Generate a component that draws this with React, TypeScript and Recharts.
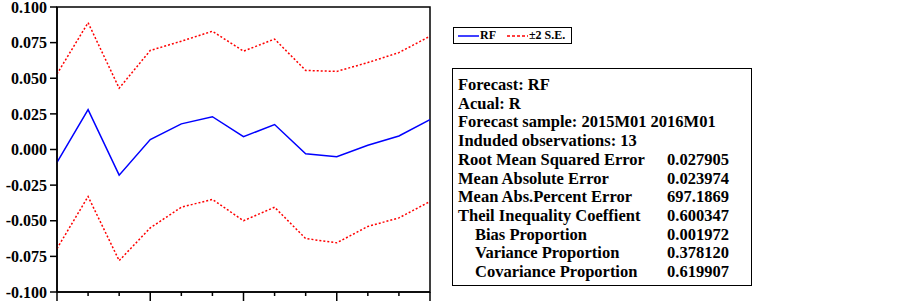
import React from "react";
import {
  LineChart,
  Line,
  XAxis,
  YAxis,
  Legend,
  ReferenceArea,
} from "recharts";

const months = [
  "2015M01", "2015M02", "2015M03", "2015M04", "2015M05", "2015M06", "2015M07",
  "2015M08", "2015M09", "2015M10", "2015M11", "2015M12", "2016M01",
];
const forecast = [
  -0.009, 0.028, -0.018, 0.007, 0.018, 0.023, 0.009, 0.0175, -0.003, -0.005,
  0.003, 0.0095, 0.021,
];
const upper = [
  0.053, 0.089, 0.043, 0.0695, 0.076, 0.083, 0.069, 0.0775, 0.0555, 0.0548,
  0.061, 0.068, 0.0795,
];
const lower = [
  -0.0695, -0.033, -0.078, -0.055, -0.0405, -0.035, -0.05, -0.0405, -0.0625,
  -0.0655, -0.054, -0.048, -0.0365,
];
const yTicks = [-0.1, -0.075, -0.05, -0.025, 0, 0.025, 0.05, 0.075, 0.1];

const stats: [string, string, boolean][] = [
  ["Forecast: RF", "", false],
  ["Acual: R", "", false],
  ["Forecast sample: 2015M01 2016M01", "", false],
  ["Induded observations: 13", "", false],
  ["Root Mean Squared Error", "0.027905", false],
  ["Mean Absolute Error", "0.023974", false],
  ["Mean Abs.Percent Error", "697.1869", false],
  ["Theil Inequality Coeffient", "0.600347", false],
  ["Bias Proportion", "0.001972", true],
  ["Variance Proportion", "0.378120", true],
  ["Covariance Proportion", "0.619907", true],
];

const data = months.map((m, i) => ({
  month: m,
  rf: forecast[i],
  up: upper[i],
  lo: lower[i],
}));

const serif = "'Liberation Serif', 'Times New Roman', serif";

// long tick every third month, short ones in between
const XTick = (props: any) => {
  const { x, y, index } = props;
  return (
    <line
      x1={x}
      x2={x}
      y1={y}
      y2={y + (index % 3 === 0 ? 9 : 4)}
      stroke="#000"
      strokeWidth={1.5}
    />
  );
};

const LegendBox = () => (
  <div
    style={{
      width: 117,
      height: 15,
      border: "1.5px solid #000",
      display: "flex",
      alignItems: "center",
      fontFamily: serif,
      fontWeight: "bold",
      fontSize: 12,
      color: "#000",
      boxSizing: "content-box",
      background: "#fff",
    }}
  >
    <svg width={21} height={4} style={{ marginLeft: 4 }}>
      <line x1={0} x2={21} y1={2} y2={2} stroke="#0000ff" strokeWidth={1.5} />
    </svg>
    <span style={{ marginLeft: 1 }}>RF</span>
    <svg width={21} height={4} style={{ marginLeft: 11 }}>
      <line
        x1={0}
        x2={21}
        y1={2}
        y2={2}
        stroke="#ff0000"
        strokeWidth={1.5}
        strokeDasharray="3 2"
      />
    </svg>
    <span style={{ marginLeft: 1 }}>±2 S.E.</span>
  </div>
);

export default function App() {
  return (
    <div
      style={{
        position: "absolute",
        left: 0,
        top: 0,
        width: 903,
        height: 303,
        background: "#fff",
      }}
    >
      <LineChart
        width={903}
        height={303}
        data={data}
        margin={{ top: 7, right: 473, left: 0, bottom: 0 }}
      >
        <XAxis
          dataKey="month"
          height={11}
          interval={0}
          tickSize={0}
          tickMargin={0}
          tickLine={false}
          tick={<XTick />}
          axisLine={{ stroke: "#000", strokeWidth: 1.5 }}
          padding={{ left: 0, right: 0 }}
        />
        <YAxis
          width={57}
          domain={[-0.1, 0.1]}
          ticks={yTicks}
          interval={0}
          tickSize={7}
          tickMargin={3}
          tickFormatter={(v: number) => v.toFixed(3)}
          tick={{ fill: "#000", fontFamily: serif, fontWeight: "bold", fontSize: 16 }}
          tickLine={{ stroke: "#000", strokeWidth: 1.5 }}
          axisLine={{ stroke: "#000", strokeWidth: 1.5 }}
        />
        <ReferenceArea
          x1={months[0]}
          x2={months[months.length - 1]}
          y1={-0.1}
          y2={0.1}
          fill="none"
          stroke="#000"
          strokeWidth={1.5}
          ifOverflow="visible"
        />
        <Legend
          content={<LegendBox />}
          wrapperStyle={{ left: 453, top: 27, width: "auto", height: 0 }}
        />
        <Line
          dataKey="up"
          stroke="#ff0000"
          strokeWidth={1.5}
          strokeDasharray="2 2"
          dot={false}
          isAnimationActive={false}
        />
        <Line
          dataKey="lo"
          stroke="#ff0000"
          strokeWidth={1.5}
          strokeDasharray="2 2"
          dot={false}
          isAnimationActive={false}
        />
        <Line
          dataKey="rf"
          stroke="#0000ff"
          strokeWidth={1.5}
          dot={false}
          isAnimationActive={false}
        />
      </LineChart>
      <div
        style={{
          position: "absolute",
          left: 452,
          top: 68,
          width: 300,
          height: 218,
          border: "1.5px solid #000",
          fontFamily: serif,
          fontWeight: "bold",
          fontSize: 16.5,
          lineHeight: "18.7px",
          paddingTop: 7,
          boxSizing: "border-box",
        }}
      >
        {stats.map(([label, value, indent]) => (
          <div key={label} style={{ display: "flex", whiteSpace: "nowrap" }}>
            <span style={{ width: 214, paddingLeft: indent ? 22 : 5, boxSizing: "border-box" }}>
              {label}
            </span>
            <span>{value}</span>
          </div>
        ))}
      </div>
    </div>
  );
}
